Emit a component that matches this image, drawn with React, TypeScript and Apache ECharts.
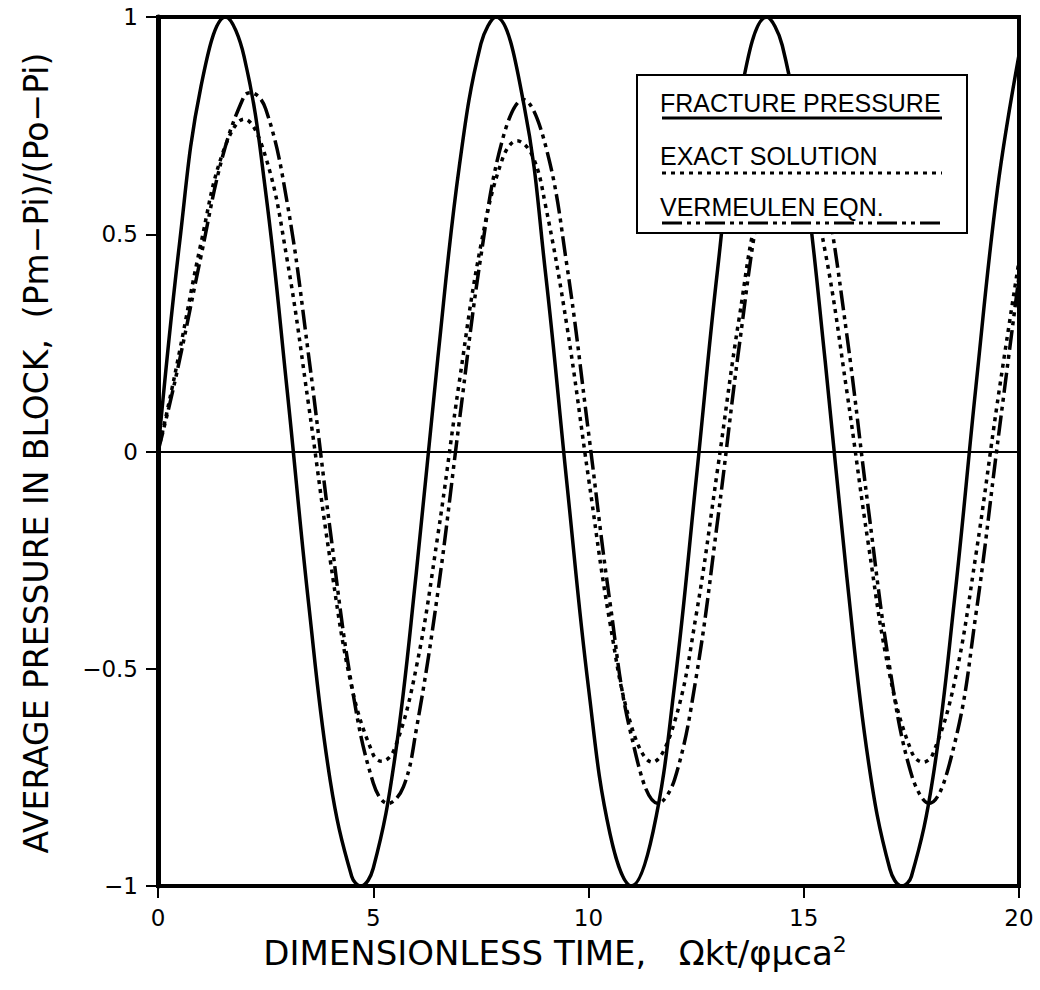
import React, { useEffect, useRef } from "react";
import * as echarts from "echarts";

// Dimensionless time samples and block-pressure values
const fractureTime = [0, 0.5, 1, 1.57, 2, 2.5, 3, 3.5, 4, 4.5, 4.71, 5, 5.5, 6, 6.5, 7, 7.5, 7.85, 8.5, 9, 9.5, 10, 10.5, 11, 11.5, 12, 12.5, 13, 13.5, 14.14, 14.5, 15, 15.5, 16, 16.5, 17, 17.28, 17.5, 18, 18.5, 19, 19.5, 20];
const fracturePressure = [0, 0.479, 0.841, 1, 0.909, 0.598, 0.141, -0.351, -0.757, -0.978, -1, -0.959, -0.706, -0.279, 0.215, 0.657, 0.938, 1, 0.798, 0.412, -0.075, -0.544, -0.88, -1, -0.875, -0.537, -0.066, 0.42, 0.804, 1, 0.935, 0.65, 0.206, -0.288, -0.712, -0.961, -1, -0.978, -0.751, -0.342, 0.15, 0.604, 0.913];

const exactTime = [0, 0.25, 0.5, 1, 1.5, 2, 2.5, 3, 3.5, 4, 4.5, 5, 5.2, 5.5, 6, 6.5, 7, 7.5, 8, 8.34, 8.7, 9, 9.5, 10, 10.5, 11, 11.48, 12, 12.5, 13, 13.5, 14, 14.62, 15, 15.5, 16, 16.5, 17, 17.5, 17.77, 18, 18.5, 19, 19.5, 20];
const exactPressure = [0, 0.11, 0.23, 0.48, 0.686, 0.765, 0.678, 0.441, 0.106, -0.25, -0.542, -0.698, -0.713, -0.683, -0.497, -0.193, 0.161, 0.475, 0.673, 0.715, 0.68, 0.567, 0.288, -0.061, -0.395, -0.633, -0.715, -0.622, -0.377, -0.04, 0.307, 0.579, 0.715, 0.666, 0.459, 0.139, -0.213, -0.516, -0.69, -0.715, -0.696, -0.532, -0.237, 0.114, 0.439];

const vermeulenTime = [0, 0.25, 0.5, 1, 1.5, 2, 2.15, 2.5, 3, 3.5, 4, 4.5, 5, 5.34, 5.7, 6, 6.5, 7, 7.5, 8, 8.48, 9, 9.5, 10, 10.5, 11, 11.62, 12, 12.5, 13, 13.5, 14, 14.5, 14.77, 15.1, 15.5, 16, 16.5, 17, 17.5, 17.91, 18.5, 19, 19.5, 20];
const vermeulenPressure = [0, 0.1, 0.21, 0.45, 0.679, 0.818, 0.826, 0.789, 0.573, 0.22, -0.181, -0.539, -0.763, -0.81, -0.772, -0.64, -0.324, 0.07, 0.449, 0.717, 0.81, 0.705, 0.427, 0.044, -0.348, -0.656, -0.81, -0.755, -0.52, -0.158, 0.242, 0.583, 0.781, 0.81, 0.775, 0.602, 0.269, -0.131, -0.499, -0.743, -0.81, -0.674, -0.374, 0.017, 0.403];

const xTicks = { min: 0, max: 20, interval: 5 };
const yTicks = { min: -1, max: 1, interval: 0.5 };

const legendLabels = ["FRACTURE PRESSURE", "EXACT SOLUTION", "VERMEULEN EQN."];

const FONT = "'Liberation Sans', Arial, Helvetica, sans-serif";
const WIDE = "'DejaVu Sans', 'Liberation Sans', sans-serif";

const zip = (t: number[], v: number[]) => t.map((x, i) => [x, v[i]]);

export default function App() {
  const ref = useRef<HTMLDivElement>(null);
  useEffect(() => {
    if (!ref.current) return;
    const chart = echarts.init(ref.current, undefined, { renderer: "svg" });
    const dashExact = [4, 5];
    const dashVerm = [20, 5, 4, 5, 4, 5];
    const legendY = [118, 173, 223];
    const legendTextY = [103, 156, 207];
    const graphics: any[] = [
      {
        type: "rect",
        shape: { x: 637, y: 75, width: 330, height: 158 },
        style: { fill: "#fff", stroke: "#000", lineWidth: 2 },
        z: 10,
      },
    ];
    const dashes: any[] = [null, dashExact, dashVerm];
    legendLabels.forEach((lab, i) => {
      graphics.push({
        type: "text",
        x: 660,
        y: legendTextY[i],
        z: 11,
        style: {
          text: lab,
          font: `25px ${FONT}`,
          fill: "#000",
          verticalAlign: "middle",
          align: "left",
        },
      });
      graphics.push({
        type: "line",
        z: 11,
        shape: { x1: 662, y1: legendY[i], x2: 942, y2: legendY[i] },
        style: {
          stroke: "#000",
          lineWidth: 3,
          lineDash: dashes[i] || undefined,
        },
      });
    });
    graphics.push({
      type: "text",
      x: 36,
      y: 453,
      rotation: Math.PI / 2,
      style: {
        text: "AVERAGE PRESSURE IN BLOCK,  (Pm\u2212Pi)/(Po\u2212Pi)",
        font: `33px ${WIDE}`,
        fill: "#000",
        align: "center",
        verticalAlign: "middle",
      },
    });
    graphics.push({
      type: "text",
      x: 555,
      y: 953,
      style: {
        text: "DIMENSIONLESS TIME,   \u03A9kt/\u03C6\u03BCca{sup|2}",
        font: `34px ${WIDE}`,
        fill: "#000",
        align: "center",
        verticalAlign: "middle",
        rich: {
          sup: { fontSize: 22, fontFamily: WIDE, verticalAlign: "top", padding: [0, 0, 17, 0] },
        },
      },
    });

    const option: any = {
      animation: false,
      backgroundColor: "#fff",
      grid: {
        left: 158,
        right: 21,
        top: 17,
        bottom: 104,
        show: true,
        borderColor: "#000",
        borderWidth: 4,
      },
      xAxis: {
        type: "value",
        ...xTicks,
        axisLine: { show: true, onZero: false, lineStyle: { color: "#000", width: 4 } },
        axisTick: { show: true, length: 12, lineStyle: { color: "#000", width: 2 } },
        axisLabel: { color: "#000", fontSize: 23, margin: 20, fontFamily: WIDE },
        splitLine: { show: false },
      },
      yAxis: {
        type: "value",
        ...yTicks,
        axisLine: { show: true, onZero: false, lineStyle: { color: "#000", width: 5 } },
        axisTick: { show: true, length: 12, lineStyle: { color: "#000", width: 2 } },
        axisLabel: {
          color: "#000",
          fontSize: 23,
          margin: 20,
          fontFamily: WIDE,
          formatter: (v: number) => String(v).replace("-", "\u2212"),
        },
        splitLine: { show: false },
      },
      series: [
        {
          name: "FRACTURE PRESSURE",
          type: "line",
          data: zip(fractureTime, fracturePressure),
          symbol: "none",
          smooth: 0.4,
          lineStyle: { color: "#000", width: 3.5, type: "solid" },
          markLine: {
            silent: true,
            symbol: ["none", "none"],
            label: { show: false },
            lineStyle: { color: "#000", width: 2, type: "solid" },
            data: [{ yAxis: 0 }],
          },
        },
        {
          name: "EXACT SOLUTION",
          type: "line",
          data: zip(exactTime, exactPressure),
          symbol: "none",
          smooth: 0.4,
          lineStyle: { color: "#000", width: 3.5, type: dashExact },
        },
        {
          name: "VERMEULEN EQN.",
          type: "line",
          data: zip(vermeulenTime, vermeulenPressure),
          symbol: "none",
          smooth: 0.4,
          lineStyle: { color: "#000", width: 3.5, type: dashVerm },
        },
      ],
      graphic: graphics,
    };
    chart.setOption(option);
    return () => chart.dispose();
  }, []);
  return (
    <div
      ref={ref}
      style={{ position: "fixed", left: 0, top: 0, width: 1040, height: 990, background: "#fff" }}
    />
  );
}
